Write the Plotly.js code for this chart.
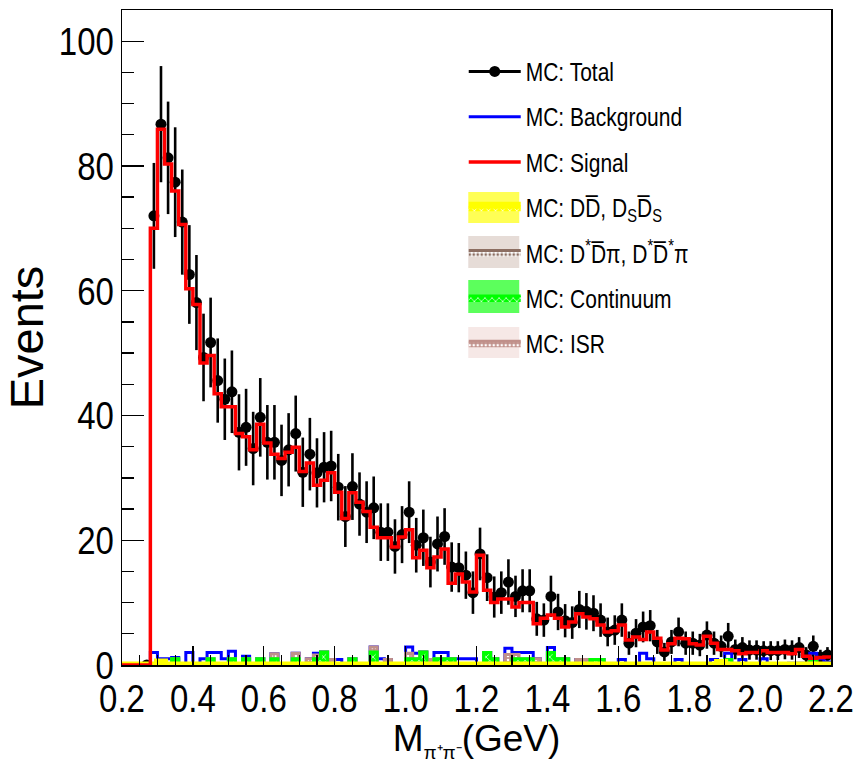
<!DOCTYPE html>
<html><head><meta charset="utf-8">
<script src="https://cdn.plot.ly/plotly-3.0.1.min.js"></script>
<style>html,body{margin:0;padding:0;background:#fff}#chart{width:861px;height:769px}</style>
</head><body><div id="chart"></div>
<script>
// Histogram binning: 100 bins of 0.02 GeV from 0.2 to 2.2 GeV
const binLow = 0.2, binWidth = 0.02, nBins = 100;

// MC: Total (black points, Poisson errors)
const mcTotal = [
  null,null,null,0,72,86.7,81.3,77.4,71,62.6,
  58.1,49.3,51.7,45.6,42.6,43.8,37.3,38.1,34.7,39.7,
  35.7,35.7,32.8,34.5,37.1,30.9,33.8,30.8,31.7,31.9,
  28.5,23.8,28.6,25.8,24.5,25.2,21.3,21.3,19.0,20.9,
  24.5,19.2,20.4,16.5,19.4,20.6,15.7,15.6,14.4,11.6,
  17.8,14.0,10.9,11.6,13.3,11.0,11.9,11.9,7.4,7.2,
  11.0,8.5,7.1,6.8,8.9,8.6,8.3,7.2,5.3,5.6,
  7.2,3.5,5.1,6.1,6.3,3.7,2.1,3.7,5.3,3.5,
  3.5,3.2,4.8,3.5,3.0,4.6,2.5,2.8,2.4,2.4,
  2.3,2.3,2.3,2.5,2.4,2.8,1.6,3.0,1.3,1.6
];
// MC: Signal (red)
const mcSignal = [
  0,0,0,0,70,85.9,80.3,76,70.6,60.3,
  57.8,48.4,49.6,43.5,41.4,41.4,37.1,36.6,34.5,38.6,
  35.6,33.8,33.1,34.1,34.9,31.0,32.4,28.8,29.6,30.8,
  27.7,23.5,27.6,26.1,24.6,22.1,20.4,20.4,18.9,20.5,
  21.7,17.2,18.4,15.6,17.3,18.6,13.1,14.6,13.3,11.7,
  17.6,12.0,10.0,10.6,10.6,9.3,10.0,10.0,6.6,7.5,
  8.0,7.5,6.1,6.9,8.2,7.7,7.4,6.4,5.3,5.5,
  6.4,4.0,4.5,4.1,5.3,4.3,2.4,3.4,4.3,4.2,
  3.4,3.2,4.6,3.5,2.5,2.5,2.3,1.8,2.0,2.0,
  2.3,2.0,2.0,2.0,1.8,2.5,1.4,1.1,1.2,1.3
];
// MC: Background (blue)
const mcBackground = [
  0,0,0,0,2,1,1,1.2,0,2,
  0,1,2,2,1,2.2,0,1.4,0,1,
  0,1.8,0,0,1.9,0,1,1.9,2.1,0.9,
  0.9,0,1,0,0,2.9,1,0.9,0,0,
  2.9,1.9,2.1,0.9,2,2,1,1,1,1,
  0,2,1,0,2.7,2,2,2,1,0,
  2.8,1,1,0,0.9,0.9,0.9,0.9,0,0,
  0.9,0,0,1.9,1,0,0,0,0.9,0,
  0,0,0,0.9,0,1.9,0,0.9,0,0,
  1,0,0,0,0.3,0.3,0,1.9,1,0.5
];
// MC: Continuum (green)
const mcContinuum = [
  0,0,0,0,0,0,0,1,0,0,
  0,0,1,0,0,1,0,1,0,1,
  0,1,0,0,1,0,0,1,2.1,0,
  0,0,1,0,0,2.1,0,0,0,0,
  1,1,2.1,0,1,1,1,0,0,0,
  0,2,1,0,0,1,1,1,0,0,
  2,1,1,0,0,0,0.9,0.9,0,0,
  0,0,0,0,0,0,0,0,0,0,
  0,0,0,0,0,0.9,0,0,0,0,
  0,0,0,0,0,0,0,0.9,0,0
];
// MC: ISR (rosy brown, stacked on continuum)
const mcISR = [
  0,0,0,0,0,0,0,0,0,0,
  0,0,0,0,0,0,0,0,0,0,
  0,0.8,0,0,0.9,0,1,0.6,0,0.9,
  0,0,0,0,0,0.8,0,0.9,0,0,
  0.9,0,0,0.9,0,0,0,0,0,0,
  0,0,0,0,1.7,0.7,0,0,1,0,
  0,0,0,0,0.9,0.9,0,0,0,0,
  0,0,0,0,0,0,0,0,0,0,
  0,0,0,0,0,0,0,0,0,0,
  0,0,0,0,0,0,0,0,0,0
];
// MC: D*Dbar pi (brown)
const mcDstarDpi = [
  0,0,0,0,0,0,0,0,0,0,
  0,0,0,0,0,0,0,0,0,0,
  0,0,0,0,0,0,0,0,0,0,
  0,0,0,0,0,0,0,0,0,0,
  0,0,0,0,0,0,0,0,0,0,
  0,0,0,0,0,0,0,0,0,0,
  0,0,0,0,0,0,0,0,0,0,
  0,0,0,0,0,0,0,0,0,0,
  0,0,0,0,0,0,0,0,0,0,
  0,0,0,0,0,0,0,0,0,0
];
// MC: DDbar, DsDsbar (yellow)
const mcDDbar = [
  0,0,0,0,0,0.5,0,0,0,0,
  0,0,0,0,0,0,0,0,0,0,
  0,0,0,0,0,0,0,0,0,0,
  0,0,0,0,0,0,0,0,0,0,
  0,0,0,0,0,0,0,0,0,0,
  0,0,0,0,0,0,0,0,0,0,
  0,0,0,0,0,0,0,0,0,0,
  0,0,0,0,0,0,0,0,0,0,
  0,0,0,0,0.4,0,0,0,0,0,
  0,0,0,0,0,0,0,0,0,0
];

const xTickVals = [0.2,0.4,0.6,0.8,1.0,1.2,1.4,1.6,1.8,2.0,2.2];
const xTickText = ['0.2','0.4','0.6','0.8','1.0','1.2','1.4','1.6','1.8','2.0','2.2'];

// bin geometry
const centers = [], edges = [];
for (let i = 0; i < nBins; i++) centers.push(+(binLow + (i + 0.5) * binWidth).toFixed(4));
for (let i = 0; i <= nBins; i++) edges.push(+(binLow + i * binWidth).toFixed(4));
function stepY(v) { return v.concat([v[v.length - 1]]); }
function addArr(a, b) { return a.map((v, i) => v + b[i]); }

const FONT = 'Liberation Sans, Arial, sans-serif';
const isrTop = addArr(mcContinuum, mcISR);

const traces = [
  { // data points
    x: centers, y: mcTotal, type: 'scatter', mode: 'markers', showlegend: false,
    marker: {color: 'black', size: 11, symbol: 'circle'},
    error_y: {type: 'sqrt', color: 'black', thickness: 2.6, width: 0},
    hoverinfo: 'skip'
  },
  { // background outline
    x: edges, y: stepY(mcBackground), type: 'scatter', mode: 'lines',
    line: {color: '#0000ff', width: 3, shape: 'hv'},
    name: 'MC: Background', legendgroup: 'g2', legendrank: 2
  },
  { // D* D pi
    x: edges, y: stepY(mcDstarDpi), type: 'scatter', mode: 'lines', fill: 'tozeroy',
    line: {color: '#8c6e62', width: 3, shape: 'hv'},
    fillcolor: '#ffffff',
    fillpattern: {shape: '.', fgcolor: '#8c6e62', bgcolor: '#ffffff', size: 4, solidity: 0.4},
    name: 'MC: D<sup>*</sup>D\u0305π, D<sup>*</sup>D\u0305<sup>*</sup>π', legendgroup: 'g5', legendrank: 5
  },
  { // ISR stacked on continuum
    x: edges, y: stepY(isrTop), type: 'scatter', mode: 'lines', fill: 'tozeroy',
    line: {color: '#c0908a', width: 3, shape: 'hv'},
    fillcolor: '#c0908a',
    fillpattern: {shape: '.', fgcolor: '#ffffff', bgcolor: '#c0908a', size: 4, solidity: 0.35},
    name: 'MC: ISR', legendgroup: 'g7', legendrank: 7
  },
  { // continuum
    x: edges, y: stepY(mcContinuum), type: 'scatter', mode: 'lines', fill: 'tozeroy',
    line: {color: '#00ff00', width: 3, shape: 'hv'},
    fillcolor: '#00ff00',
    fillpattern: {shape: 'x', fgcolor: '#ffffff', bgcolor: '#00ff00', size: 5, solidity: 0.25},
    name: 'MC: Continuum', legendgroup: 'g6', legendrank: 6
  },
  { // DDbar
    x: edges, y: stepY(mcDDbar), type: 'scatter', mode: 'lines', fill: 'tozeroy',
    line: {color: '#ffff00', width: 7, shape: 'hv'},
    fillcolor: '#ffff00',
    fillpattern: {shape: 'x', fgcolor: '#ffffff', bgcolor: '#ffff00', size: 5, solidity: 0.25},
    name: 'MC: DD\u0305, D<sub>S</sub>D\u0305<sub>S</sub>', legendgroup: 'g4', legendrank: 4
  },
  { // signal
    x: edges, y: stepY(mcSignal), type: 'scatter', mode: 'lines',
    line: {color: '#ff0000', width: 3.5, shape: 'hv'},
    name: 'MC: Signal', legendgroup: 'g3', legendrank: 3
  },
  { // legend entry for total
    x: [null], y: [null], type: 'scatter', mode: 'lines+markers',
    line: {color: 'black', width: 3}, marker: {color: 'black', size: 11},
    name: 'MC: Total', legendgroup: 'g1', legendrank: 1
  }
];

// legend swatch boxes (paper coordinates) behind the filled entries
const swatchX0 = 0.4884, swatchX1 = 0.5603;
const swatches = [
  {y0: 0.6748, y1: 0.7221, color: '#ffff55'},
  {y0: 0.6061, y1: 0.6550, color: '#e6dcd7'},
  {y0: 0.5374, y1: 0.5878, color: '#5cff5c'},
  {y0: 0.4687, y1: 0.5160, color: '#f6e8e6'}
];
const shapes = swatches.map(s => ({
  type: 'rect', xref: 'paper', yref: 'paper', x0: swatchX0, x1: swatchX1,
  y0: s.y0, y1: s.y1, fillcolor: s.color, line: {width: 0}, layer: 'above'
}));

const layout = {
  width: 861, height: 769,
  margin: {l: 121.5, r: 30, t: 10, b: 104},
  paper_bgcolor: '#ffffff', plot_bgcolor: '#ffffff',
  font: {family: FONT, color: '#000'},
  showlegend: true,
  shapes: shapes,
  legend: {
    x: 0.482, y: 0.937, xanchor: 'left', yanchor: 'top',
    font: {family: FONT, size: 21, color: '#000'},
    bgcolor: 'rgba(255,255,255,0)', borderwidth: 0,
    traceorder: 'grouped', tracegroupgap: 15, itemwidth: 52
  },
  xaxis: {
    range: [0.2, 2.2], showgrid: false, zeroline: false,
    showline: true, linecolor: '#000', linewidth: 1.5, mirror: true,
    ticks: 'inside', ticklen: 19, tickwidth: 1.3, tickcolor: '#000',
    tickvals: xTickVals, ticktext: xTickText,
    minor: {ticks: 'inside', dtick: 0.05, tick0: 0.2, ticklen: 10, tickwidth: 1.3, tickcolor: '#000'},
    tickfont: {family: FONT, size: 33, color: '#000'},
    title: {text: 'M<sub><span style="font-size:19px">π⁺π⁻</span></sub>(GeV)', font: {family: FONT, size: 37, color: '#000'}, standoff: 13},
    automargin: false
  },
  yaxis: {
    range: [0, 105], showgrid: false, zeroline: false,
    showline: true, linecolor: '#000', linewidth: 1.5, mirror: true,
    ticks: 'inside', ticklen: 22, tickwidth: 1.3, tickcolor: '#000',
    tick0: 0, dtick: 20,
    minor: {ticks: 'inside', dtick: 5, ticklen: 12, tickwidth: 1.3, tickcolor: '#000'},
    tickfont: {family: FONT, size: 33, color: '#000'},
    title: {text: 'Events', font: {family: FONT, size: 47, color: '#000'}, standoff: 12},
    automargin: false
  }
};

// Reference text is rendered tall and narrow: stretch glyphs vertically
function stretchText(selector, s, anchorTop) {
  document.querySelectorAll(selector).forEach(t => {
    const bb = t.getBBox();
    const cx = bb.x + bb.width / 2;
    const cy = anchorTop ? bb.y : bb.y + bb.height / 2;
    const tr = t.getAttribute('transform') || '';
    t.setAttribute('transform', tr + ' translate(' + cx + ',' + cy + ') scale(1,' + s + ') translate(' + (-cx) + ',' + (-cy) + ')');
  });
}

Plotly.newPlot('chart', traces, layout, {displayModeBar: false, staticPlot: true}).then(() => {
  stretchText('.xtick text', 1.2, true);
  stretchText('.ytick text', 1.2, false);
  stretchText('.legendtext', 1.2, false);
});
</script>
</body></html>
